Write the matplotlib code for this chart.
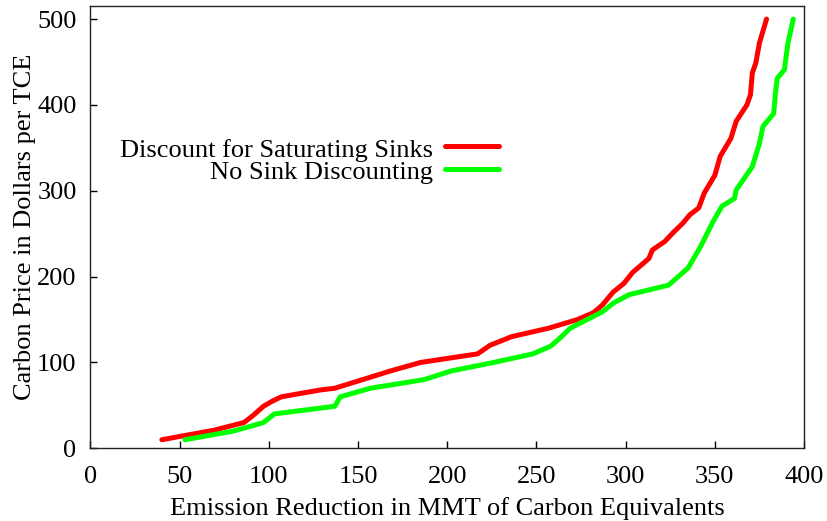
import matplotlib
matplotlib.use("Agg")
import matplotlib.pyplot as plt
from matplotlib.lines import Line2D

plt.rcParams['font.family'] = ['Liberation Serif', 'DejaVu Serif']

# Discount for Saturating Sinks (red)
red_x = [40, 69, 86, 91, 97, 102, 107, 129, 137, 168, 185, 217, 224, 236, 257, 273,
         282, 287, 293, 299, 304, 313, 315, 322, 327, 332, 336, 341, 344, 350, 353,
         359, 362, 368, 370, 371, 373, 375, 379]
red_y = [10, 21, 30, 38, 49, 55, 60, 68, 70, 90, 100, 110, 120, 130, 140, 150,
         158, 167, 182, 192, 205, 221, 231, 241, 252, 262, 272, 280, 297, 318, 340,
         361, 381, 400, 412, 437, 449, 472, 500]

# No Sink Discounting (green)
green_x = [53, 80, 97, 103, 137, 140, 157, 187, 202, 226, 248, 258, 263, 269, 287,
           293, 302, 324, 335, 342, 349, 354, 361, 362, 371, 375, 377, 383, 384, 385,
           389, 391, 394]
green_y = [10, 20, 30, 40, 49, 60, 70, 80, 90, 100, 110, 119, 128, 140, 159,
           169, 179, 190, 210, 235, 264, 282, 291, 301, 328, 355, 375, 390, 414, 431,
           441, 472, 500]

series_labels = ["Discount for Saturating Sinks", "No Sink Discounting"]
series_colors = ['#ff0000', '#00ff00']
x_ticks = [0, 50, 100, 150, 200, 250, 300, 350, 400]
y_ticks = [0, 100, 200, 300, 400, 500]

W, H = 827, 521
fig = plt.figure(figsize=(W / 100, H / 100), dpi=100)
ax = fig.add_axes([0.1094, 0.1395, 0.9722 - 0.1094, 0.9890 - 0.1395])

ax.plot(red_x, red_y, color=series_colors[0], lw=3.6, solid_capstyle='round',
        solid_joinstyle='round')
ax.plot(green_x, green_y, color=series_colors[1], lw=3.6, solid_capstyle='round',
        solid_joinstyle='round')

ax.set_xlim(0, 400)
ax.set_ylim(0, 515.5)
ax.set_xticks(x_ticks)
ax.set_yticks(y_ticks)
ax.tick_params(axis='x', direction='in', length=5, width=1, labelsize=19, top=False, pad=13)
ax.tick_params(axis='y', direction='in', length=5, width=1, labelsize=19, right=False, pad=10)
for s in ax.spines.values():
    s.set_linewidth(1.0)
    s.set_color('#222222')

ax.set_xlabel("Emission Reduction in MMT of Carbon Equivalents", fontsize=19, labelpad=6)
ax.set_ylabel("Carbon Price in Dollars per TCE", fontsize=19, labelpad=1)

# gnuplot-style key: right-aligned text followed by line sample
key_text_right = 433 / W
key_line = (445 / W, 499 / W)
key_rows = [1 - 147.7 / H, 1 - 170.7 / H]
for lab, col, yy in zip(series_labels, series_colors, key_rows):
    fig.text(key_text_right, yy, lab, ha='right', va='center_baseline', fontsize=19)
    fig.add_artist(Line2D(key_line, [yy + 0.004, yy + 0.004], color=col, lw=3.6,
                          solid_capstyle='round', transform=fig.transFigure))

fig.savefig("out.png", dpi=100)
